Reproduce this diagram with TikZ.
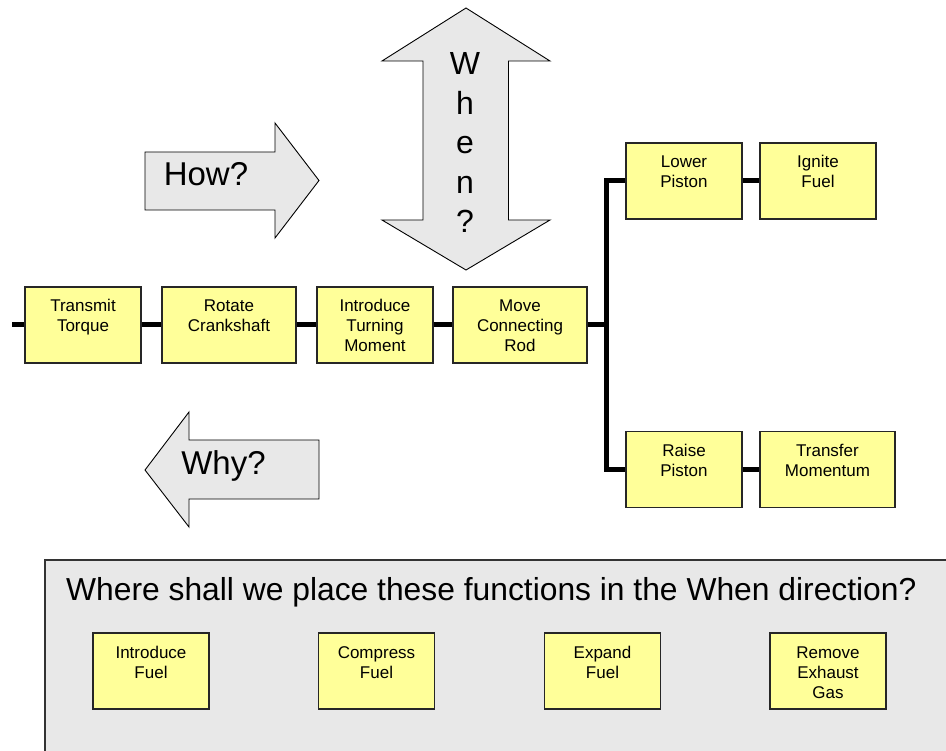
\documentclass[tikz,border=0pt]{standalone}
\usepackage{fontspec}
\setmainfont{Liberation Sans}
\definecolor{boxyellow}{RGB}{255,255,153}
\definecolor{panelgray}{RGB}{232,232,232}
\definecolor{arrowgray}{RGB}{232,232,232}
\newcommand{\bt}[2][116pt]{\parbox[c][76pt][t]{#1}{\centering\vspace*{11pt}\strut #2}}
\tikzset{
  fnbox/.style={rectangle, draw=black!85, line width=1.4pt, fill=boxyellow, inner sep=0pt,
    font=\fontsize{17}{20}\selectfont},
  conn/.style={line width=5pt, black, line join=miter, line cap=butt},
  bigarrow/.style={draw=black, line width=0.9pt, fill=arrowgray, line join=miter},
  bigtext/.style={font=\fontsize{33}{39.5}\selectfont, inner sep=0pt, anchor=base},
}
\begin{document}
\begin{tikzpicture}[x=1pt, y=-1pt]
\useasboundingbox (0,0) rectangle (946,751);
\clip (0,0) rectangle (946,751);

% How? arrow
\draw[bigarrow] (145,152) -- (275,152) -- (275,123) -- (319,180.5) -- (275,238) -- (275,210) -- (145,210) -- cycle;
\node[bigtext] (how) at (206,186) {How?};

% When? arrow
\draw[bigarrow] (466,8) -- (550,61) -- (508.5,61) -- (508.5,220) -- (550,220) -- (466,270) -- (382,220) -- (423,220) -- (423,61) -- (382,61) -- cycle;
\node[bigtext, font=\fontsize{32}{39.5}\selectfont] (w1) at (465,75) {W};
\node[bigtext, font=\fontsize{32}{39.5}\selectfont] (w2) at (465,114.5) {h};
\node[bigtext, font=\fontsize{32}{39.5}\selectfont] (w3) at (465,154) {e};
\node[bigtext, font=\fontsize{32}{39.5}\selectfont] (w4) at (465,193.5) {n};
\node[bigtext, font=\fontsize{32}{39.5}\selectfont] (w5) at (465,233) {?};

% Why? arrow
\draw[bigarrow] (145,470) -- (189,412) -- (189,440) -- (319,440) -- (319,499) -- (189,499) -- (189,527) -- cycle;
\node[bigtext] (why) at (223.5,475) {Why?};

% Main row
\node[fnbox] (tt) at (83,325) {\bt{Transmit\\Torque}};
\node[fnbox] (rc) at (229,325) {\bt[134pt]{Rotate\\Crankshaft}};
\node[fnbox] (itm) at (375,325) {\bt{Introduce\\Turning\\Moment}};
\node[fnbox] (mcr) at (520,325) {\bt[134pt]{Move\\Connecting\\Rod}};
\node[fnbox] (lp) at (684,181) {\bt{Lower\\Piston}};
\node[fnbox] (if) at (818,181) {\bt{Ignite\\Fuel}};
\node[fnbox] (rp) at (684,469.5) {\bt{Raise\\Piston}};
\node[fnbox] (tm) at (827.5,469.5) {\bt[135pt]{Transfer\\Momentum}};

\coordinate (lt) at (12,325);
\coordinate (jn) at (606.5,325);
\draw[conn] (lt) -- (tt.west);
\draw[conn] (tt.east) -- (rc.west);
\draw[conn] (rc.east) -- (itm.west);
\draw[conn] (itm.east) -- (mcr.west);
\draw[conn] (mcr.east) -- (jn);
\draw[conn] (lp.west) -| (jn) |- (rp.west);
\draw[conn] (lp.east) -- (if.west);
\draw[conn] (rp.east) -- (tm.west);

% Bottom panel
\draw[fill=panelgray, draw=black!80, line width=1.4pt] (45,560) rectangle (980,790);
\node[inner sep=0pt, anchor=base west, font=\fontsize{31.8}{37}\selectfont] (title) at (66,600)
  {Where shall we place these functions in the When direction?};
\node[fnbox] (ifu) at (151,671) {\bt{Introduce\\Fuel}};
\node[fnbox] (cf) at (376.5,671) {\bt{Compress\\Fuel}};
\node[fnbox] (ef) at (602.5,671) {\bt{Expand\\Fuel}};
\node[fnbox] (reg) at (828,671) {\bt{Remove\\Exhaust\\Gas}};
\end{tikzpicture}
\end{document}
